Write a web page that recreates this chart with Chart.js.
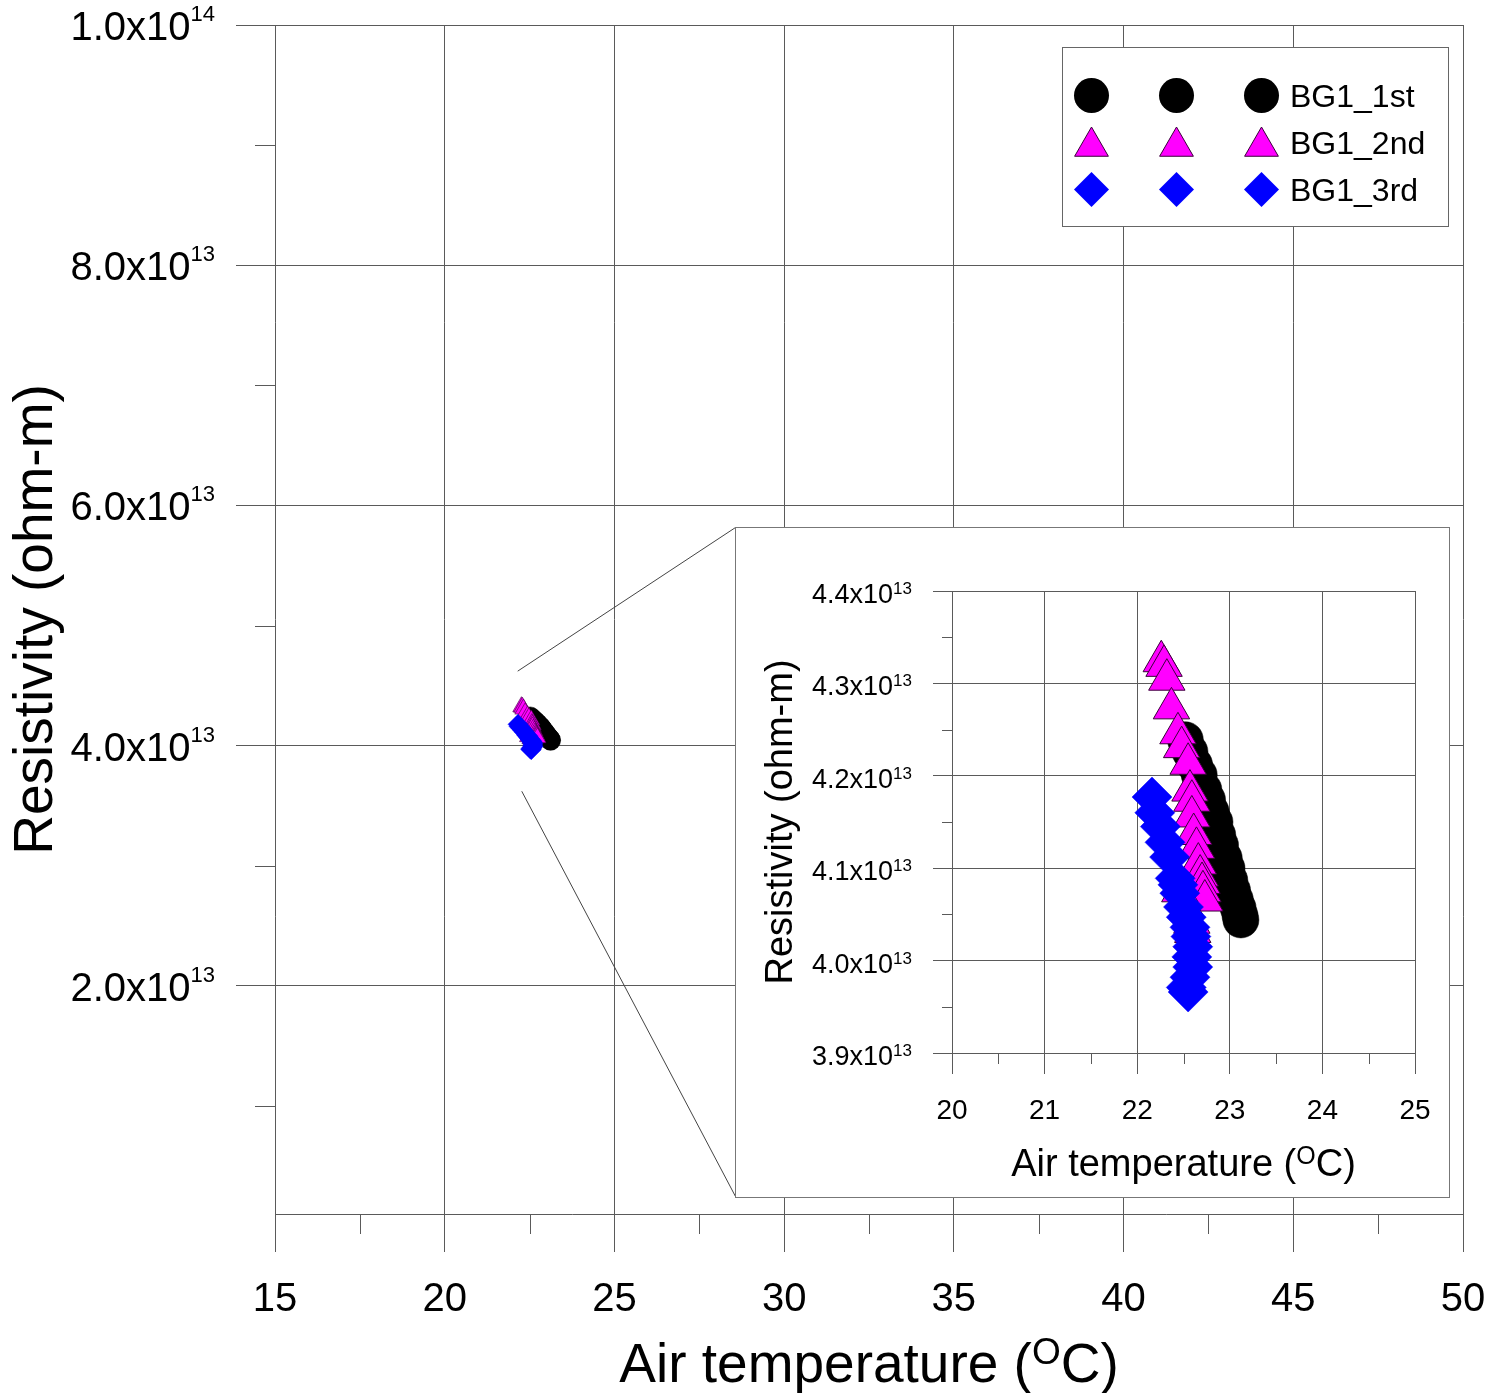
<!DOCTYPE html>
<html><head><meta charset="utf-8">
<script src="https://cdn.jsdelivr.net/npm/chart.js@4.4.1/dist/chart.umd.min.js"></script>
<style>
html,body{margin:0;padding:0;background:#fff;}
#wrap{position:relative;width:1485px;height:1393px;overflow:hidden;}
#main{position:absolute;left:0;top:0;}
#inset{position:absolute;left:735px;top:527px;}
</style></head><body>
<div id="wrap"><canvas id="main" width="1485" height="1393"></canvas><canvas id="inset" width="715" height="671"></canvas></div>
<script>
// ---------- data ----------
const seriesNames = ['BG1_1st', 'BG1_2nd', 'BG1_3rd'];
const temp1 = [22.52,22.57,22.62,22.67,22.72,22.76,22.80,22.84,22.87,22.90,22.94,22.97,23.00,23.03,23.06,23.09,23.11,23.12];
const rho1  = [4.239,4.226,4.212,4.201,4.185,4.174,4.161,4.150,4.136,4.125,4.111,4.100,4.087,4.076,4.066,4.057,4.049,4.044];
const temp2 = [22.26,22.29,22.32,22.37,22.44,22.48,22.55,22.57,22.59,22.59,22.61,22.64,22.66,22.68,22.70,22.71,22.73,22.46,22.53,22.59,22.60];
const rho2  = [4.324,4.319,4.304,4.273,4.246,4.231,4.213,4.184,4.173,4.156,4.137,4.122,4.105,4.092,4.084,4.075,4.065,4.075,4.058,4.041,4.031];
const temp3 = [22.16,22.19,22.25,22.30,22.35,22.41,22.44,22.46,22.50,22.53,22.57,22.58,22.60,22.59,22.60,22.57,22.53,22.55];
const rho3  = [4.177,4.160,4.145,4.128,4.112,4.089,4.082,4.073,4.058,4.047,4.036,4.026,4.015,4.004,3.993,3.982,3.971,3.966];
const rhoUnit = 1e13;

// main axes
const mainXTicks = [15,20,25,30,35,40,45,50];
const mainXMinor = [17.5,22.5,27.5,32.5,37.5,42.5,47.5];
const mainYTicks = [2e13,4e13,6e13,8e13,1e14];
const mainYMinor = [1e13,3e13,5e13,7e13,9e13];
const mainYMin = 1e12, mainYMax = 1e14;
// inset axes
const insetXTicks = [20,21,22,23,24,25];
const insetXMinor = [20.5,21.5,22.5,23.5,24.5];
const insetYTicks = [3.9e13,4.0e13,4.1e13,4.2e13,4.3e13,4.4e13];
const insetYMinor = [3.95e13,4.05e13,4.15e13,4.25e13,4.35e13];
// zoom callout source points (data coords on main chart)
const calloutFrom = [[22.15,4.62e13],[22.27,3.62e13]];

const xTitleA = 'Air temperature (', xTitleSup = 'O', xTitleB = 'C)';
const yTitle = 'Resistivity (ohm-m)';

const colors = ['#000000','#FF00FF','#0000FF'];
const borders = ['#000000','#3a003a','#0000FF'];
const styles = ['circle','triangle','rectRot'];

const FONT = '"Liberation Sans", Arial, sans-serif';
const GRID = '#5a5a5a';

function pts(t, r){ return t.map((v,i)=>({x:v, y:r[i]*rhoUnit})); }
const allData = [pts(temp1,rho1), pts(temp2,rho2), pts(temp3,rho3)];

function datasets(radii, bw){
  return allData.map((d,i)=>({
    label: seriesNames[i], data: d, showLine:false,
    pointStyle: styles[i], pointRadius: radii[i],
    backgroundColor: colors[i], borderColor: borders[i],
    pointBorderWidth: i===1 ? bw : 0.5, order: 3-i
  }));
}

function sci(v){
  const e = Math.floor(Math.log10(v)+1e-9);
  return {m:(v/Math.pow(10,e)).toFixed(1), e:String(e)};
}
function drawSci(ctx, v, xRight, y, fb, fs, dyBase, dySup){
  const s = sci(v);
  ctx.textAlign='left'; ctx.textBaseline='alphabetic'; ctx.fillStyle='#000';
  ctx.font = fs; const ws = ctx.measureText(s.e).width;
  ctx.font = fb; const wb = ctx.measureText(s.m+'x10').width;
  ctx.fillText(s.m+'x10', xRight-ws-wb, y+dyBase);
  ctx.font = fs; ctx.fillText(s.e, xRight-ws, y+dySup);
}
function drawXTitle(ctx, cx, base, fb, fs, raise){
  ctx.textAlign='left'; ctx.textBaseline='alphabetic'; ctx.fillStyle='#000';
  ctx.font=fb; const w1=ctx.measureText(xTitleA).width, w3=ctx.measureText(xTitleB).width;
  ctx.font=fs; const w2=ctx.measureText(xTitleSup).width;
  let x = cx-(w1+w2+w3)/2;
  ctx.font=fb; ctx.fillText(xTitleA,x,base); x+=w1;
  ctx.font=fs; ctx.fillText(xTitleSup,x,base-raise); x+=w2;
  ctx.font=fb; ctx.fillText(xTitleB,x,base);
}
function drawYTitle(ctx, xBase, cy, f){
  ctx.save(); ctx.translate(xBase, cy); ctx.rotate(-Math.PI/2);
  ctx.textAlign='center'; ctx.textBaseline='alphabetic'; ctx.fillStyle='#000'; ctx.font=f;
  ctx.fillText(yTitle,0,0); ctx.restore();
}
function minorTicks(ctx, xs, ys, area, xsLen, ysLen, sx, sy){
  ctx.save(); ctx.strokeStyle=GRID; ctx.lineWidth=1; ctx.beginPath();
  xs.forEach(v=>{const p=Math.round(sx.getPixelForValue(v))+0.5; ctx.moveTo(p,area.bottom); ctx.lineTo(p,area.bottom+xsLen);});
  ys.forEach(v=>{const p=Math.round(sy.getPixelForValue(v))+0.5; ctx.moveTo(area.left-ysLen,p); ctx.lineTo(area.left,p);});
  ctx.stroke(); ctx.restore();
}
function marker(ctx, style, x, y, r, fill, stroke, lw){
  ctx.save(); ctx.fillStyle=fill; ctx.strokeStyle=stroke; ctx.lineWidth=lw; ctx.beginPath();
  if(style==='circle'){ ctx.arc(x,y,r,0,Math.PI*2); }
  else if(style==='triangle'){ ctx.moveTo(x,y-r); ctx.lineTo(x+Math.sqrt(3)/2*r,y+r/2); ctx.lineTo(x-Math.sqrt(3)/2*r,y+r/2); ctx.closePath(); }
  else { ctx.moveTo(x-r,y); ctx.lineTo(x,y-r); ctx.lineTo(x+r,y); ctx.lineTo(x,y+r); ctx.closePath(); }
  ctx.fill(); if(lw>0) ctx.stroke(); ctx.restore();
}

const mainPlugin = {
  id:'mainDeco',
  beforeDraw(chart){ const c=chart.ctx; c.save(); c.fillStyle='#fff'; c.fillRect(0,0,chart.width,chart.height); c.restore(); },
  afterDraw(chart){
    const ctx=chart.ctx, a=chart.chartArea, sx=chart.scales.x, sy=chart.scales.y;
    minorTicks(ctx, mainXMinor, mainYMinor, a, 20, 20, sx, sy);
    ctx.save();
    ctx.font='40px '+FONT; ctx.textAlign='center'; ctx.textBaseline='alphabetic'; ctx.fillStyle='#000';
    mainXTicks.forEach(v=>ctx.fillText(String(v), sx.getPixelForValue(v), 1311));
    mainYTicks.forEach(v=>drawSci(ctx, v, 215, sy.getPixelForValue(v), '40px '+FONT, '22px '+FONT, 15, -4));
    drawXTitle(ctx, (a.left+a.right)/2, 1382, '55px '+FONT, '37px '+FONT, 18);
    drawYTitle(ctx, 52, (a.top+a.bottom)/2, '55px '+FONT);
    // callout lines to inset
    ctx.strokeStyle='#444'; ctx.lineWidth=1; ctx.beginPath();
    ctx.moveTo(sx.getPixelForValue(calloutFrom[0][0]), sy.getPixelForValue(calloutFrom[0][1])); ctx.lineTo(735.5,527.5);
    ctx.moveTo(sx.getPixelForValue(calloutFrom[1][0]), sy.getPixelForValue(calloutFrom[1][1])); ctx.lineTo(735.5,1196.5);
    ctx.stroke();
    // legend
    ctx.fillStyle='#fff'; ctx.fillRect(1062,47,387,180);
    ctx.strokeStyle='#666'; ctx.strokeRect(1062.5,47.5,386,179);
    const rowY=[95.5,146.5,189.5], rr=[17.5,19.5,17.5], colX=[1091.5,1176.5,1261.5];
    for(let i=0;i<3;i++){
      colX.forEach(x=>marker(ctx, styles[i], x, rowY[i], rr[i], colors[i], borders[i], i===1?1:0));
      ctx.font='32px '+FONT; ctx.fillStyle='#000'; ctx.textAlign='left'; ctx.textBaseline='alphabetic';
      ctx.fillText(seriesNames[i], 1290, [107,154,201][i]);
    }
    ctx.restore();
  }
};

const insetPlugin = {
  id:'insetDeco',
  beforeDraw(chart){ const c=chart.ctx; c.save(); c.fillStyle='#fff'; c.fillRect(0,0,chart.width,chart.height);
    c.strokeStyle='#777'; c.lineWidth=1; c.strokeRect(0.5,0.5,chart.width-1,chart.height-1); c.restore(); },
  afterDraw(chart){
    const ctx=chart.ctx, a=chart.chartArea, sx=chart.scales.x, sy=chart.scales.y;
    minorTicks(ctx, insetXMinor, insetYMinor, a, 11, 10, sx, sy);
    ctx.save();
    ctx.font='28px '+FONT; ctx.textAlign='center'; ctx.textBaseline='alphabetic'; ctx.fillStyle='#000';
    insetXTicks.forEach(v=>ctx.fillText(String(v), sx.getPixelForValue(v), 1119-527));
    insetYTicks.forEach(v=>drawSci(ctx, v, 912-735, sy.getPixelForValue(v), '27px '+FONT, '17px '+FONT, 12, 3));
    drawXTitle(ctx, (a.left+a.right)/2, 1176-527, '38px '+FONT, '25px '+FONT, 12);
    drawYTitle(ctx, 792-735, (a.top+a.bottom)/2, '38px '+FONT);
    ctx.restore();
  }
};

function axisCfg(min, max, ticks, tickLen, afterFit, border){
  return {
    type:'linear', min, max,
    afterBuildTicks: s=>{ s.ticks = ticks.map(v=>({value:v})); },
    ticks:{display:false},
    grid:{color:GRID, tickColor:GRID, lineWidth:1, drawTicks:true, tickLength:tickLen},
    border:{display:border, color:GRID, width:1},
    afterFit
  };
}

new Chart(document.getElementById('main'), {
  type:'scatter',
  data:{datasets: datasets([10,10,10], 0.6)},
  options:{
    responsive:false, animation:false, events:[],
    layout:{padding:{left:0, top:25, right:22, bottom:0}},
    plugins:{legend:{display:false}, tooltip:{enabled:false}},
    scales:{
      x: axisCfg(15, 50, mainXTicks, 38, s=>{s.height=179;}, true),
      y: axisCfg(mainYMin, mainYMax, mainYTicks, 39, s=>{s.width=275;}, false)
    }
  },
  plugins:[mainPlugin]
});

new Chart(document.getElementById('inset'), {
  type:'scatter',
  data:{datasets: datasets([18,21,20], 1)},
  options:{
    responsive:false, animation:false, events:[],
    layout:{padding:{left:0, top:64, right:35, bottom:0}},
    plugins:{legend:{display:false}, tooltip:{enabled:false}},
    scales:{
      x: axisCfg(20, 25, insetXTicks, 21, s=>{s.height=145;}, true),
      y: axisCfg(3.9e13, 4.4e13, insetYTicks, 19, s=>{s.width=217;}, false)
    }
  },
  plugins:[insetPlugin]
});
</script>
</body></html>
